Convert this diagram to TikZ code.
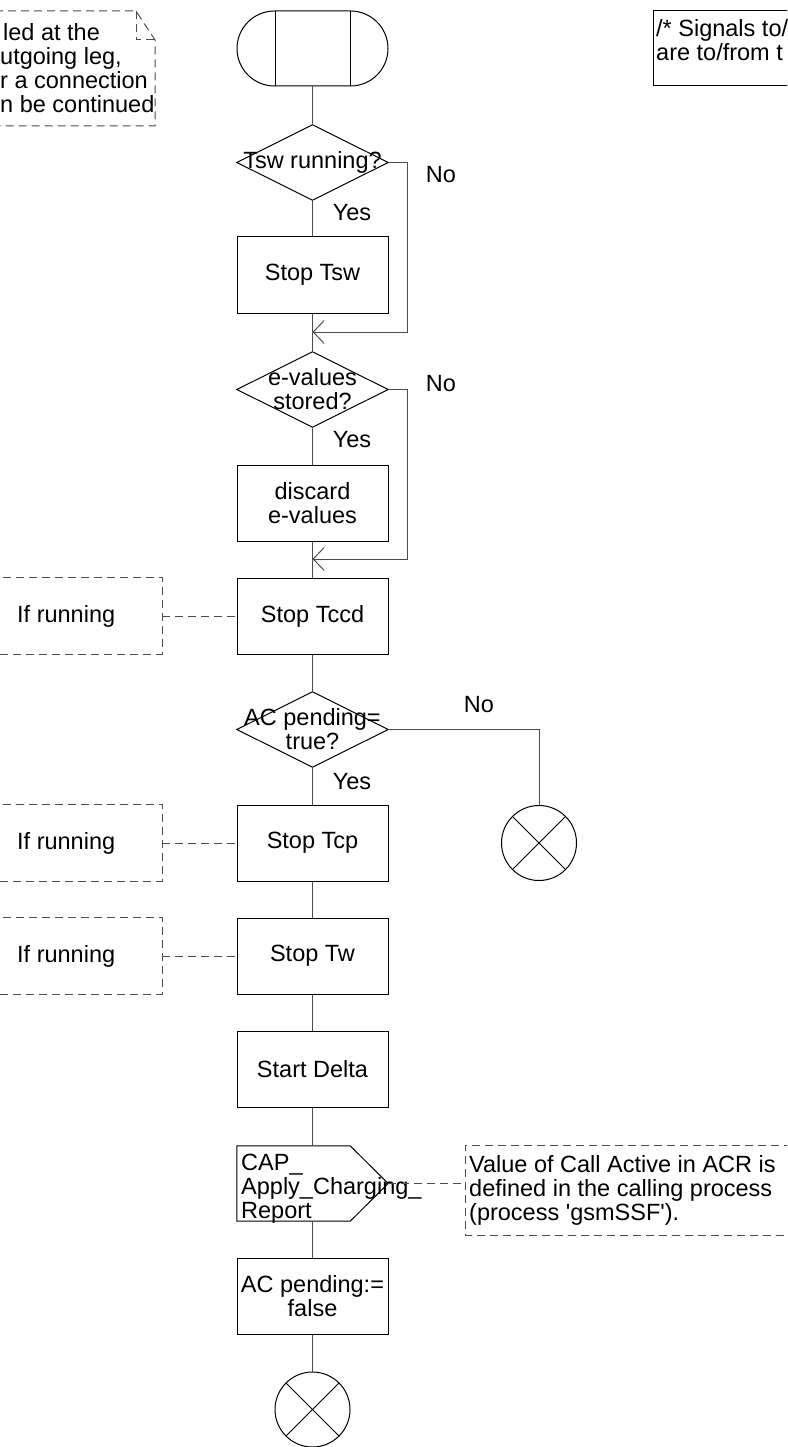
\documentclass[tikz,border=0pt]{standalone}
\usepackage{fontspec}
\setmainfont{Liberation Sans}[Ligatures=TeXOff]
\usetikzlibrary{shapes.misc,arrows.meta,calc}
\begin{document}
\begin{tikzpicture}[x=1pt,y=-1pt,
  every node/.style={font=\fontsize{23.5}{24}\selectfont, inner sep=0pt},
  ln/.style={line width=1pt, draw=black!70},
  shp/.style={line width=1pt, draw=black},
  box/.style={draw=black, line width=1pt, minimum width=151pt, minimum height=76pt, align=center},
  dia/.style={minimum width=151pt, minimum height=75pt, align=center},
  note/.style={line width=1pt, dash pattern=on 8pt off 5pt, draw=black!70},
  merge/.style={line width=1pt, draw=black!70, -{Straight Barb[length=11pt,width=23pt]}},
  endc/.style={circle, draw=black, line width=1pt, minimum size=75pt},
]
\useasboundingbox (0,0) rectangle (787,1447);
\clip (0,0) rectangle (787,1447);

% start symbol
\node[rounded rectangle, draw=black, line width=1pt, minimum width=151pt, minimum height=75pt] (start) at (312.5,48.5) {};
\draw[shp] ($(start.center)+(-37.5,-37.5)$) -- ($(start.center)+(-37.5,37.5)$);
\draw[shp] ($(start.center)+(37.5,-37.5)$) -- ($(start.center)+(37.5,37.5)$);

% decision 1
\node[dia] (d1) at (312.5,162.5) {Tsw running?};
\draw[shp] (d1.north) -- (d1.east) -- (d1.south) -- (d1.west) -- cycle;
\node (no1) at (441,175) {No};
\node (yes1) at (352,213) {Yes};

\node[box] (b1) at (312.5,275) {Stop Tsw};

% decision 2
\node[dia] (d2) at (312.5,389.5) {e-values\\stored?};
\draw[shp] (d2.north) -- (d2.east) -- (d2.south) -- (d2.west) -- cycle;
\node (no2) at (441,384) {No};
\node (yes2) at (352,440) {Yes};

\node[box] (b2) at (312.5,503) {discard\\e-values};
\node[box] (b3) at (312.5,616) {Stop Tccd};

% decision 3
\node[dia] (d3) at (312.5,729.5) {AC pending=\\true?};
\draw[shp] (d3.north) -- (d3.east) -- (d3.south) -- (d3.west) -- cycle;
\node (no3) at (479,705) {No};
\node (yes3) at (352,782) {Yes};

\node[box] (b4) at (312.5,843) {Stop Tcp};
\node[endc] (e1) at (539,843) {};
\draw[shp] (e1.north west) -- (e1.south east);
\draw[shp] (e1.north east) -- (e1.south west);

\node[box] (b5) at (312.5,956) {Stop Tw};
\node[box] (b6) at (312.5,1069) {Start Delta};

% output signal
\node[dia] (out) at (312.5,1183.5) {};
\draw[shp] (out.north west) -- ($(out.north east)+(-38,0)$) -- (out.east) -- ($(out.south east)+(-38,0)$) -- (out.south west) -- cycle;
\node[anchor=west, align=left] (outtxt) at (241,1189) {CAP\_\\Apply\_Charging\_\\Report};

\node[box] (b7) at (312.5,1296) {AC pending:=\\false};
\node[endc] (e2) at (312.5,1409.5) {};
\draw[shp] (e2.north west) -- (e2.south east);
\draw[shp] (e2.north east) -- (e2.south west);

% flow lines
\coordinate (m1) at (312.5,332);
\coordinate (m2) at (312.5,559);
\draw[ln] (start.south) -- (d1.north);
\draw[ln] (d1.south) -- (b1.north);
\draw[ln] (b1.south) -- (d2.north);
\draw[merge] (d1.east) -- ++(19,0) |- (m1);
\draw[ln] (d2.south) -- (b2.north);
\draw[ln] (b2.south) -- (b3.north);
\draw[merge] (d2.east) -- ++(19,0) |- (m2);
\draw[ln] (b3.south) -- (d3.north);
\draw[ln] (d3.south) -- (b4.north);
\draw[ln] (d3.east) -| (e1.north);
\draw[ln] (b4.south) -- (b5.north);
\draw[ln] (b5.south) -- (b6.north);
\draw[ln] (b6.south) -- (out.north);
\draw[ln] (out.south) -- (b7.north);
\draw[ln] (b7.south) -- (e2.north);

% comment notes "If running"
\node[minimum width=172pt, minimum height=76pt] (n1) at (76,616) {};
\draw[note] (n1.north west) -- (n1.north east) -- (n1.south east) -- (n1.south west);
\node[anchor=west] (n1t) at (17,616) {If running};
\draw[note] (n1.east) -- (b3.west);

\node[minimum width=172pt, minimum height=76pt] (n2) at (76,843) {};
\draw[note] (n2.north west) -- (n2.north east) -- (n2.south east) -- (n2.south west);
\node[anchor=west] (n2t) at (17,843) {If running};
\draw[note] (n2.east) -- (b4.west);

\node[minimum width=172pt, minimum height=76pt] (n3) at (76,956) {};
\draw[note] (n3.north west) -- (n3.north east) -- (n3.south east) -- (n3.south west);
\node[anchor=west] (n3t) at (17,956) {If running};
\draw[note] (n3.east) -- (b5.west);

% note at output
\node[minimum width=340pt, minimum height=89pt, anchor=west] (n4) at (465,1190.5) {};
\draw[note] (n4.north east) -- (n4.north west) -- (n4.south west) -- (n4.south east);
\node[anchor=west, align=left] (n4t) at (469,1190) {Value of Call Active in ACR is\\defined in the calling process\\(process 'gsmSSF').};
\draw[note] (out.east) -- (out.east -| n4.west);

% top-left text annotation
\draw[note] (-5,11) -- (136,11) -- (155,40) -- (155,126) -- (-5,126);
\draw[note] (136,11) -- (136,40) -- (155,40);
\node[anchor=north west, align=left] (tl) at (0,23) {\hspace*{3pt}led at the\\utgoing leg,\\r a connection\\n be continued};

% top-right text annotation
\draw[shp] (653,11) rectangle (800,86);
\node[anchor=north west, align=left] (tr) at (656,19) {/* Signals to/\\are to/from t};
\end{tikzpicture}
\end{document}
